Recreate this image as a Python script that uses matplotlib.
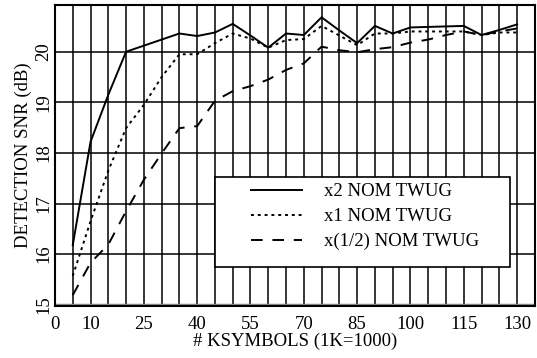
import matplotlib.pyplot as plt
from matplotlib.patches import Rectangle
import numpy as np

plt.rcParams['font.family'] = ['Liberation Serif', 'DejaVu Serif']

# SNR vs. number of symbols, for three TWUG levels
ksym = [5, 10, 15, 20, 25, 30, 35, 40, 45, 50, 55, 60, 65, 70, 75, 80, 85, 90, 95, 100, 105, 110, 115, 120, 125, 130]
snr_x2 = [16.18, 18.22, 19.15, 20.0, 20.12, 20.24, 20.36, 20.31, 20.38, 20.55, 20.32, 20.08, 20.36, 20.33, 20.68, 20.42, 20.17,
          20.51, 20.36, 20.48, 20.49, 20.5, 20.51, 20.33, 20.43, 20.54]
snr_x1 = [15.57, 16.65, 17.65, 18.49, 18.95, 19.5, 19.95, 19.95, 20.17, 20.36, 20.26, 20.08, 20.23, 20.25, 20.51, 20.32, 20.13,
          20.36, 20.36, 20.4, 20.4, 20.4, 20.4, 20.33, 20.38, 20.38]
snr_xhalf = [15.19, 15.83, 16.19, 16.85, 17.47, 17.99, 18.49, 18.53, 19.03, 19.22, 19.32, 19.45, 19.64, 19.77, 20.1, 20.03, 19.99,
             20.05, 20.09, 20.18, 20.24, 20.33, 20.4, 20.33, 20.4, 20.46]

xtick_vals = [0, 10, 25, 40, 55, 70, 85, 100, 115, 130]
ytick_vals = [15, 16, 17, 18, 19, 20]

fig = plt.figure(figsize=(5.37, 3.58), dpi=100)
ax = fig.add_axes([0.1024, 0.145, 0.8936, 0.841])

# grid: every 5 ksymbols, every 1 dB
for gx in np.arange(5, 135, 5):
    ax.axvline(gx, color='black', lw=1.1, zorder=1)
for gy in ytick_vals[1:]:
    ax.axhline(gy, color='black', lw=1.1, zorder=1)
ax.axhline(15.0, color='#888888', lw=2.5, zorder=1)

ax.plot(ksym, snr_x2, color='black', lw=1.4, ls='-', label='x2 NOM TWUG', zorder=3)
ax.plot(ksym, snr_x1, color='black', lw=1.4, ls=(0, (1.5, 2)), label='x1 NOM TWUG', zorder=3)
ax.plot(ksym, snr_xhalf, color='black', lw=1.4, ls=(0, (6, 5)), label='x(1/2) NOM TWUG', zorder=3)

ax.set_xlim(0, 135)
ax.set_ylim(14.974, 20.923)
ax.set_xticks(xtick_vals)
ax.set_xticklabels([str(v) for v in xtick_vals], fontsize=13.5)
ax.set_yticks(ytick_vals)
ax.set_yticklabels([str(v) for v in ytick_vals], fontsize=13.5, rotation=90, va='center')
ax.tick_params(length=0)
ax.tick_params(axis='x', pad=7)
ax.tick_params(axis='y', pad=2)

for s in ax.spines.values():
    s.set_linewidth(1.5)

ax.set_xlabel('# KSYMBOLS (1K=1000)', fontsize=13.5, labelpad=0)
ax.set_ylabel('DETECTION SNR (dB)', fontsize=13.5, labelpad=2)

# legend box drawn separately so entries can sit indented inside it
box = Rectangle(((215 - 55) / 480, (306 - 267) / 301), 295 / 480, 90 / 301, transform=ax.transAxes,
                facecolor='white', edgecolor='black', lw=1.2, zorder=4)
ax.add_patch(box)
leg = ax.legend(loc='upper left', bbox_to_anchor=((251 - 55) / 480, (306 - 183) / 301),
                fontsize=13.5, frameon=False, handlelength=2.7, handletextpad=1.2,
                borderpad=0, labelspacing=0.42, borderaxespad=0)
leg.set_zorder(5)

fig.savefig('out.png', dpi=100)
